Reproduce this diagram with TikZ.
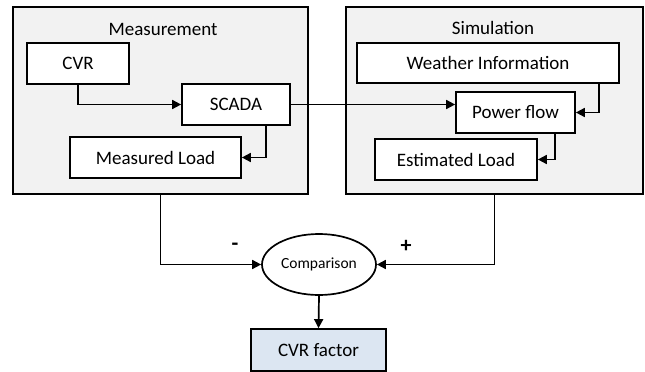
\documentclass[tikz,border=0pt]{standalone}
\usepackage{fontspec}
\setmainfont{Carlito}
\usetikzlibrary{arrows.meta,shapes.geometric}
\definecolor{panelgray}{HTML}{F2F2F2}
\definecolor{factorblue}{HTML}{DCE6F2}
\begin{document}
\begin{tikzpicture}[x=1pt,y=-1pt,
  panel/.style={draw,fill=panelgray,line width=1.7pt,inner sep=0pt},
  blk/.style={draw,fill=white,line width=1.7pt,inner sep=0pt,font=\fontsize{19}{22}\selectfont},
  ttl/.style={inner sep=0pt,font=\fontsize{19}{22}\selectfont},
  sgn/.style={inner sep=0pt,font=\fontsize{22}{24}\selectfont\bfseries},
  arr/.style={-{Triangle[length=9pt,width=9pt]},line width=1.7pt}]
\useasboundingbox (0,0) rectangle (645,372);
% panels
\node[panel,minimum width=295pt,minimum height=187pt] (mpanel) at (160.5,100.5) {};
\node[panel,minimum width=297pt,minimum height=187pt] (spanel) at (494.5,100.5) {};
\node[ttl] (mtitle) at (163,29) {Measurement};
\node[ttl] (stitle) at (493,28) {Simulation};
% measurement blocks
\node[blk,minimum width=102pt,minimum height=41pt] (cvr) at (78,63.5) {CVR};
\node[blk,minimum width=108pt,minimum height=41pt] (scada) at (236,104.5) {SCADA};
\node[blk,minimum width=171pt,minimum height=41pt] (mload) at (155.5,157.5) {Measured Load};
% simulation blocks
\node[blk,minimum width=262pt,minimum height=40pt] (weather) at (488,63) {Weather Information};
\node[blk,minimum width=119pt,minimum height=41pt] (pf) at (515.5,112.5) {Power flow};
\node[blk,minimum width=162pt,minimum height=41pt] (eload) at (456,159.5) {Estimated Load};
% comparison
\node[ellipse,draw,fill=white,line width=1.7pt,inner sep=0pt,minimum width=114pt,minimum height=61pt,font=\fontsize{15.5}{18}\selectfont] (cmp) at (319,264.5) {Comparison};
\node[draw,fill=factorblue,line width=1.7pt,inner sep=0pt,minimum width=135pt,minimum height=42pt,font=\fontsize{19}{22}\selectfont] (factor) at (318.5,350) {CVR factor};
\node[sgn] (minus) at (235,247) {-};
\node[sgn] (plus) at (406,246) {+};
% connectors
\draw[arr] (cvr.south) |- (scada.west);
\draw[arr] ([xshift=-25pt]scada.south east) |- (mload.east);
\draw[arr] (scada.east) -- (scada.east -| pf.west);
\draw[arr] ([xshift=-21pt]weather.south east) |- (pf.east);
\draw[arr] ([xshift=-21pt]pf.south east) |- (eload.east);
\draw[arr] (mpanel.south) |- (cmp.west);
\draw[arr] (spanel.south) |- (cmp.east);
\draw[arr] (cmp.south) -- (factor.north);
\end{tikzpicture}
\end{document}
